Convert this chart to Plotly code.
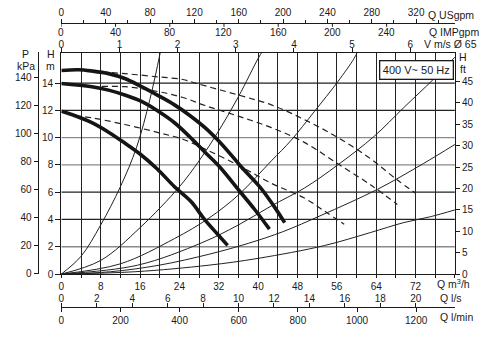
import plotly.graph_objects as go

# ---- pump curves: flow Q (m3/h) and head H (m) ----
pump_q_1 = [0, 3.5, 6.2, 9.6, 12.9, 16.3, 19.7, 23.0, 25.9, 29.2, 32.6, 36.6, 40.3, 43.0, 45.4]
pump_h_1 = [14.92, 14.97, 14.88, 14.69, 14.33, 13.73, 13.08, 12.40, 11.68, 10.73, 9.52, 7.85, 6.41, 5.09, 3.77]
pump_q_2 = [0, 6.2, 9.6, 12.9, 16.3, 19.7, 23.0, 25.9, 29.2, 32.2, 36.3, 39.3, 42.3]
pump_h_2 = [13.97, 13.73, 13.48, 13.12, 12.65, 11.93, 11.09, 10.13, 8.93, 7.85, 6.05, 4.73, 3.29]
pump_q_3 = [0, 2.8, 6.2, 9.6, 12.9, 16.0, 19.5, 23.0, 26.4, 29.1, 31.8, 33.8]
pump_h_3 = [11.93, 11.6, 11.1, 10.4, 9.6, 8.8, 7.7, 6.4, 5.3, 4.0, 2.9, 2.1]

# ---- extended (dashed) curves ----
dash_q_1 = [6.2, 12.9, 19.7, 24.7, 27.5, 36.0, 42.7, 49.4, 56.2, 62.9, 68.3, 72.0]
dash_h_1 = [14.88, 14.69, 14.45, 14.26, 13.97, 13.12, 12.40, 11.32, 10.01, 8.44, 6.89, 5.93]
dash_q_2 = [6.2, 12.9, 19.7, 24.7, 29.2, 36.0, 42.7, 49.4, 56.2, 62.9, 68.3]
dash_h_2 = [13.73, 13.73, 13.37, 12.94, 12.35, 11.57, 10.73, 9.65, 8.08, 6.53, 5.09]
dash_q_3 = [2.8, 6.2, 12.9, 19.7, 24.7, 29.2, 36.0, 42.7, 49.4, 53.5, 57.5]
dash_h_3 = [11.6, 11.45, 10.96, 10.37, 9.88, 9.16, 7.97, 6.65, 5.57, 4.61, 3.65]

# ---- system curves ----
sys_q_1 = [0, 4, 8, 12, 15.3, 18, 20.2]
sys_h_1 = [0, 1.3, 3.6, 6.4, 9.3, 12.8, 16.4]
sys_q_2 = [0, 8, 16, 24, 28, 32, 36, 40, 41]
sys_h_2 = [0, 1.0, 3.4, 6.4, 8.3, 10.5, 13.0, 15.8, 16.4]
sys_q_3 = [0, 12, 23, 30, 36, 42.7, 46.7, 51.4, 56.2, 59.5, 60.2]
sys_h_3 = [0, 0.75, 2.6, 4.1, 5.8, 8.3, 9.8, 11.9, 14.1, 15.8, 16.3]
sys_q_4 = [0, 15.5, 28.6, 36, 42.7, 49.4, 56.2, 63.6, 69.6, 75.7, 80]
sys_h_4 = [0, 0.65, 2.3, 3.6, 5.0, 6.3, 8.0, 10.1, 12.2, 14.3, 15.9]
sys_q_5 = [0, 10, 19.9, 30, 38, 45, 52.8, 64.2, 73.6, 80]
sys_h_5 = [0, 0.17, 0.65, 1.45, 2.25, 3.1, 4.3, 6.2, 8.1, 9.5]
sys_q_6 = [0, 15, 30, 40, 53.5, 62.9, 69.6, 75, 80]
sys_h_6 = [0, 0.17, 0.65, 1.15, 2.09, 3.05, 3.77, 4.2, 4.7]

# ---- axis ticks ----
q_m3h_ticks = list(range(0, 81, 4))
q_m3h_labels = [str(v) if v % 8 == 0 and v < 80 else "" for v in q_m3h_ticks]
q_usgpm_ticks = [0, 40, 80, 120, 160, 200, 240, 280, 320]
q_impgpm_ticks = [0, 40, 80, 120, 160, 200, 240]
v_ms_ticks = [0, 1, 2, 3, 4, 5, 6]
q_ls_ticks = [0, 2, 4, 6, 8, 10, 12, 14, 16, 18, 20]
q_lmin_ticks = [0, 200, 400, 600, 800, 1000, 1200]
h_m_ticks = [0, 2, 4, 6, 8, 10, 12, 14]
p_kpa_ticks = [0, 20, 40, 60, 80, 100, 120, 140]
h_ft_ticks = [0, 5, 10, 15, 20, 25, 30, 35, 40, 45]
grid_dark = [4, 6, 12, 14]
grid_light = [2, 8, 10]

IMP_GPM_PER_M3H = 3.63   # imperial gallons per minute in one m3/h, as the printed scale runs

W, HT = 490, 338
FONT = "Liberation Sans, Arial, sans-serif"
INK = "#1a1a1a"

def px(x):
    return x / W

def py(y):
    return 1 - y / HT

X0, X1 = 58.7, 454.7
Y_TOP, Y_BOT = 53, 279
Y_GAL = 23.3          # shared US / imperial gallon scale line
Y_LPS = 312.3         # shared l/s and l/min scale line
H_MAX = (Y_BOT - Y_TOP) / 13.89

fig = go.Figure()

for q, h in [(sys_q_1, sys_h_1), (sys_q_2, sys_h_2), (sys_q_3, sys_h_3),
             (sys_q_4, sys_h_4), (sys_q_5, sys_h_5), (sys_q_6, sys_h_6)]:
    fig.add_trace(go.Scatter(x=q, y=h, mode="lines", line=dict(color="#222", width=1, shape="spline"),
                             hoverinfo="skip", showlegend=False))

for q, h in [(dash_q_1, dash_h_1), (dash_q_2, dash_h_2), (dash_q_3, dash_h_3)]:
    fig.add_trace(go.Scatter(x=q, y=h, mode="lines",
                             line=dict(color="#222", width=1.2, dash="6px,4px", shape="spline"),
                             hoverinfo="skip", showlegend=False))

for q, h in [(pump_q_1, pump_h_1), (pump_q_2, pump_h_2), (pump_q_3, pump_h_3)]:
    fig.add_trace(go.Scatter(x=q, y=h, mode="lines", line=dict(color="#151515", width=3.6, shape="spline"),
                             hoverinfo="skip", showlegend=False))

# empty traces so that every extra axis gets its own subplot pairing
for xa, ya in [("x2", "y"), ("x4", "y"), ("x5", "y"), ("x6", "y"), ("x", "y2"), ("x", "y3")]:
    fig.add_trace(go.Scatter(x=[], y=[], xaxis=xa, yaxis=ya, showlegend=False, hoverinfo="skip"))

# horizontal grid
shapes = []
for v in grid_dark:
    shapes.append(dict(type="line", xref="x", yref="y", x0=0, x1=80, y0=v, y1=v,
                       line=dict(color="#222", width=1.3), layer="below"))
for v in grid_light:
    shapes.append(dict(type="line", xref="x", yref="y", x0=0, x1=80, y0=v, y1=v,
                       line=dict(color="#8a8a8a", width=1.3), layer="below"))

# imperial gallon ticks hang down from the shared gallon line
for v in q_impgpm_ticks:
    q = v / IMP_GPM_PER_M3H
    shapes.append(dict(type="line", xref="x", yref="paper", x0=q, x1=q,
                       y0=py(Y_GAL), y1=py(Y_GAL + 4), line=dict(color=INK, width=1)))

tick_font = dict(family=FONT, size=10, color=INK)
dom_x = [px(X0), px(X1)]
dom_y = [py(Y_BOT), py(Y_TOP)]
ppx = (X1 - X0)

common = dict(showgrid=False, zeroline=False, tickfont=tick_font,
              tickcolor=INK, linecolor=INK, fixedrange=True)

fig.update_layout(
    width=W, height=HT, margin=dict(l=0, r=0, t=0, b=0),
    paper_bgcolor="white", plot_bgcolor="white",
    font=dict(family=FONT, color=INK),
    shapes=shapes,
    xaxis=dict(domain=dom_x, range=[0, 80], tickvals=q_m3h_ticks, ticktext=q_m3h_labels,
               showgrid=True, gridcolor="#222", gridwidth=1.3, zeroline=False, showline=True,
               linecolor=INK, linewidth=1.3, ticks="outside", ticklen=3, tickcolor=INK,
               tickfont=tick_font, anchor="y", fixedrange=True),
    # US gallons: labels and ticks above the shared line
    xaxis2=dict(overlaying="x", anchor="free", position=py(Y_GAL), side="top",
                range=[0, ppx / 1.1156], tickvals=q_usgpm_ticks, ticks="outside", ticklen=4,
                showline=True, linewidth=1.2, ticklabelstandoff=-1,
                minor=dict(dtick=20, ticklen=3, ticks="outside", tickcolor=INK), **common),
    xaxis4=dict(overlaying="x", anchor="free", position=py(Y_TOP), side="top",
                range=[0, ppx / 58.5], tickvals=v_ms_ticks, ticks="outside", ticklen=4,
                showline=True, linewidth=1.3, ticklabelstandoff=-4, **common),
    xaxis5=dict(overlaying="x", anchor="free", position=py(Y_LPS), side="top",
                range=[0, ppx / 17.83], tickvals=q_ls_ticks, ticks="outside", ticklen=4,
                showline=True, linewidth=1.2, ticklabelstandoff=-3, **common),
    xaxis6=dict(overlaying="x", anchor="free", position=py(Y_LPS), side="bottom",
                range=[0, ppx / 0.2975], tickvals=q_lmin_ticks, ticks="outside", ticklen=4,
                showline=False, **common),
    yaxis=dict(domain=dom_y, range=[0, H_MAX], tickvals=h_m_ticks, anchor="x", ticks="outside",
               showline=True, linewidth=1.3, ticklen=5, **common),
    yaxis2=dict(overlaying="y", anchor="free", position=px(35), side="left",
                range=[-0.2, (Y_BOT - Y_TOP) / 1.4286 - 0.2], tickvals=p_kpa_ticks, ticks="outside",
                showline=True, linewidth=1.2, ticklen=4, **common),
    yaxis3=dict(overlaying="y", anchor="x", side="right",
                range=[0, (Y_BOT - Y_TOP) / 4.356], tickvals=h_ft_ticks, ticks="outside",
                showline=True, linewidth=1.3, ticklen=4, **common),
)

# imperial gallon numbers under the shared line, placed through the flow axis
for v in q_impgpm_ticks:
    fig.add_annotation(text=str(v), x=v / IMP_GPM_PER_M3H, xref="x", y=py(33), yref="paper",
                       showarrow=False, xanchor="center", yanchor="middle",
                       font=tick_font)

def label(text, x, y, size=10.5, xanchor="left"):
    fig.add_annotation(text=text, x=px(x), y=py(y), xref="paper", yref="paper",
                       showarrow=False, xanchor=xanchor, yanchor="middle",
                       font=dict(family=FONT, size=size, color=INK))

label("Q USgpm", 426, 15)
label("Q IMPgpm", 427, 33)
label("V m/s Ø 65", 422, 45)
label("Q m<sup>3</sup>/h", 435, 289)
label("Q l/s", 438, 303)
label("Q l/min", 438, 323)
label("P", 23, 55, xanchor="center")
label("kPa", 23, 67, xanchor="center")
label("H", 48, 55, xanchor="center")
label("m", 48, 67, xanchor="center")
label("H", 463, 58, xanchor="center")
label("ft", 463, 70, xanchor="center")

fig.add_annotation(text="400 V~ 50 Hz", x=px(416), y=py(71), xref="paper", yref="paper",
                   showarrow=False, xanchor="center", yanchor="middle",
                   font=dict(family=FONT, size=11, color=INK),
                   bgcolor="white", bordercolor=INK, borderwidth=1.3, borderpad=2.5)

fig.write_html("out.html")
